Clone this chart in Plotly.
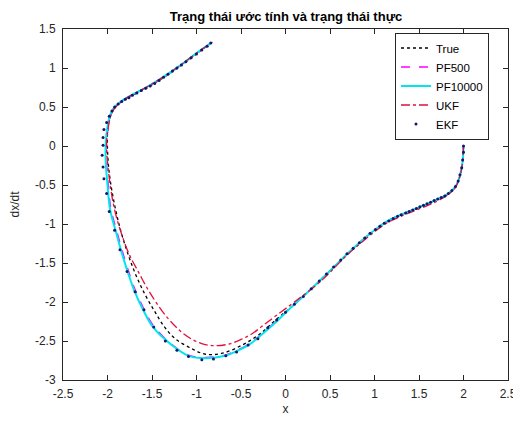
import plotly.graph_objects as go

# ---------------- data ----------------
true_x = [2.00, 1.99, 1.96, 1.91, 1.83, 1.75, 1.60, 1.45, 1.30, 1.15, 1.00, 0.85, 0.70, 0.50, 0.30, 0.10,
          -0.10, -0.30, -0.50, -0.72, -0.90, -1.05, -1.24, -1.36, -1.47, -1.58, -1.69, -1.78, -1.86, -1.93,
          -1.98, -2.00, -2.00, -1.98, -1.93, -1.85, -1.75, -1.60, -1.45, -1.30, -1.15, -1.00, -0.85]
true_y = [0.00, -0.20, -0.38, -0.52, -0.61, -0.66, -0.74, -0.81, -0.88, -0.96, -1.08, -1.22, -1.38, -1.60, -1.82, -2.03,
          -2.22, -2.42, -2.56, -2.66, -2.67, -2.60, -2.47, -2.32, -2.12, -1.90, -1.63, -1.35, -1.05, -0.70,
          -0.35, -0.05, 0.15, 0.33, 0.47, 0.56, 0.63, 0.72, 0.82, 0.93, 1.05, 1.18, 1.31]

pf10000_x = [2.00, 1.99, 1.96, 1.91, 1.83, 1.75, 1.60, 1.45, 1.30, 1.15, 1.00, 0.84, 0.69, 0.50, 0.30, 0.10,
             -0.10, -0.25, -0.40, -0.55, -0.68, -0.90, -1.09, -1.28, -1.49, -1.60, -1.70, -1.78, -1.85, -1.90,
             -1.97, -2.00, -2.02, -2.02, -2.00, -1.97, -1.92, -1.85, -1.75, -1.60, -1.45, -1.30, -1.15, -1.00, -0.84]
pf10000_y = [0.00, -0.20, -0.38, -0.52, -0.61, -0.66, -0.74, -0.81, -0.88, -0.96, -1.08, -1.23, -1.39, -1.60, -1.82, -2.03,
             -2.25, -2.40, -2.54, -2.63, -2.69, -2.72, -2.69, -2.55, -2.32, -2.10, -1.85, -1.59, -1.33, -1.12,
             -0.82, -0.50, -0.20, 0.03, 0.25, 0.40, 0.50, 0.57, 0.64, 0.73, 0.83, 0.94, 1.06, 1.19, 1.32]

pf500_x = [2.00, 1.99, 1.96, 1.91, 1.83, 1.75, 1.60, 1.45, 1.30, 1.15, 1.00, 0.84, 0.69, 0.50, 0.30, 0.10,
           -0.10, -0.25, -0.40, -0.55, -0.68, -0.90, -1.09, -1.28, -1.48, -1.59, -1.69, -1.77, -1.84, -1.89,
           -1.96, -1.99, -2.01, -2.01, -1.99, -1.96, -1.92, -1.85, -1.75, -1.60, -1.45, -1.30, -1.15, -1.00, -0.84]
pf500_y = [0.00, -0.20, -0.38, -0.52, -0.61, -0.66, -0.74, -0.81, -0.88, -0.96, -1.08, -1.23, -1.39, -1.60, -1.82, -2.03,
           -2.24, -2.39, -2.53, -2.62, -2.68, -2.71, -2.68, -2.54, -2.31, -2.09, -1.84, -1.58, -1.32, -1.11,
           -0.81, -0.50, -0.20, 0.03, 0.25, 0.40, 0.50, 0.57, 0.64, 0.73, 0.83, 0.94, 1.06, 1.19, 1.32]

ukf_x = [2.00, 1.99, 1.96, 1.91, 1.83, 1.75, 1.60, 1.45, 1.30, 1.15, 1.00, 0.84, 0.69, 0.39, 0.10, -0.10,
         -0.25, -0.38, -0.50, -0.64, -0.80, -0.95, -1.13, -1.35, -1.54, -1.65, -1.76, -1.85, -1.92,
         -1.97, -2.00, -2.01, -1.99, -1.96, -1.91, -1.84, -1.75, -1.60, -1.45, -1.30, -1.15, -1.00, -0.82]
ukf_y = [0.00, -0.20, -0.39, -0.53, -0.62, -0.68, -0.76, -0.83, -0.90, -0.98, -1.10, -1.25, -1.40, -1.74, -2.00, -2.17,
         -2.30, -2.41, -2.48, -2.54, -2.56, -2.53, -2.42, -2.17, -1.85, -1.62, -1.38, -1.10, -0.82,
         -0.50, -0.20, 0.03, 0.25, 0.40, 0.50, 0.57, 0.64, 0.73, 0.83, 0.94, 1.06, 1.19, 1.33]

ekf_x = [2.00, 2.00, 1.99, 1.98, 1.96, 1.94, 1.91, 1.87, 1.83, 1.79, 1.75, 1.71, 1.67, 1.63, 1.59, 1.55,
         1.51, 1.47, 1.43, 1.39, 1.35, 1.30, 1.26, 1.21, 1.16, 1.11, 1.06, 1.01, 0.95, 0.89, 0.83, 0.76,
         0.69, 0.62, 0.54, 0.46, 0.38, 0.29, 0.20, 0.10, 0.00, -0.10, -0.20, -0.31, -0.42, -0.55, -0.67,
         -0.81, -0.94, -1.09, -1.22, -1.35, -1.48, -1.59, -1.69, -1.78, -1.86, -1.92, -1.98, -2.01, -2.04,
         -2.05, -2.06, -2.05, -2.05, -2.04, -2.01, -1.98, -1.95, -1.92, -1.88, -1.84, -1.80, -1.76, -1.72,
         -1.67, -1.62, -1.57, -1.52, -1.47, -1.42, -1.37, -1.32, -1.27, -1.22, -1.17, -1.12, -1.06, -1.00,
         -0.94, -0.88, -0.84]
ekf_y = [0.00, -0.08, -0.18, -0.28, -0.37, -0.45, -0.52, -0.57, -0.61, -0.64, -0.66, -0.68, -0.70, -0.72, -0.74, -0.76,
         -0.78, -0.80, -0.82, -0.84, -0.86, -0.88, -0.90, -0.93, -0.96, -0.99, -1.03, -1.07, -1.12, -1.18, -1.24, -1.31,
         -1.38, -1.46, -1.55, -1.64, -1.73, -1.83, -1.93, -2.03, -2.13, -2.23, -2.33, -2.47, -2.55, -2.64, -2.69,
         -2.73, -2.74, -2.70, -2.62, -2.50, -2.32, -2.10, -1.87, -1.61, -1.33, -1.08, -0.84, -0.61, -0.42,
         -0.27, -0.12, 0.01, 0.11, 0.21, 0.30, 0.38, 0.45, 0.50, 0.54, 0.57, 0.60, 0.62, 0.65,
         0.68, 0.71, 0.74, 0.77, 0.80, 0.84, 0.88, 0.92, 0.96, 1.00, 1.04, 1.08, 1.13, 1.18,
         1.23, 1.28, 1.32]

x_ticks = [-2.5, -2, -1.5, -1, -0.5, 0, 0.5, 1, 1.5, 2, 2.5]
x_tick_labels = ["-2.5", "-2", "-1.5", "-1", "-0.5", "0", "0.5", "1", "1.5", "2", "2.5"]
y_ticks = [-3, -2.5, -2, -1.5, -1, -0.5, 0, 0.5, 1, 1.5]
y_tick_labels = ["-3", "-2.5", "-2", "-1.5", "-1", "-0.5", "0", "0.5", "1", "1.5"]

# ---------------- figure ----------------
AX = "#262626"
FONT = "Liberation Sans, Arial, sans-serif"

fig = go.Figure()
fig.add_trace(go.Scatter(x=true_x, y=true_y, mode="lines", name="True",
                         line=dict(color="#000000", width=1.3, dash="dot", shape="spline")))
fig.add_trace(go.Scatter(x=pf500_x, y=pf500_y, mode="lines", name="PF500",
                         line=dict(color="#ff00ff", width=1.3, dash="dash", shape="spline")))
fig.add_trace(go.Scatter(x=pf10000_x, y=pf10000_y, mode="lines", name="PF10000",
                         line=dict(color="#00e5ee", width=2, shape="spline")))
fig.add_trace(go.Scatter(x=ukf_x, y=ukf_y, mode="lines", name="UKF",
                         line=dict(color="#e0103c", width=1.3, dash="dashdot", shape="spline")))
fig.add_trace(go.Scatter(x=ekf_x, y=ekf_y, mode="markers", name="EKF",
                         marker=dict(color="#15156e", size=3)))

axis_common = dict(showline=True, linecolor=AX, linewidth=1, mirror="ticks",
                   ticks="inside", ticklen=5, tickcolor=AX, showgrid=False, zeroline=False,
                   automargin=False, tickfont=dict(family=FONT, size=12, color=AX))

# page body has an 8px margin, so the figure is drawn 8px smaller and the margins compensate
fig.update_layout(
    width=513, height=413,
    margin=dict(l=55, r=13, t=21, b=41),
    paper_bgcolor="white", plot_bgcolor="white",
    title=dict(text="<b>Trạng thái ước tính và trạng thái thực</b>", x=0.542, xanchor="center",
               y=0.979, yanchor="middle", font=dict(family=FONT, size=13, color="#000000")),
    xaxis=dict(range=[-2.5, 2.5], tickvals=x_ticks, ticktext=x_tick_labels, ticklabelstandoff=3,
               title=dict(text="x", font=dict(family=FONT, size=12, color=AX), standoff=4), **axis_common),
    yaxis=dict(range=[-3, 1.5], tickvals=y_ticks, ticktext=y_tick_labels, ticklabelstandoff=4,
               title=dict(text="dx/dt", font=dict(family=FONT, size=12, color=AX), standoff=17), **axis_common),
    legend=dict(x=0.746, y=0.99, xanchor="left", yanchor="top", bordercolor=AX, borderwidth=1,
                bgcolor="white", font=dict(family=FONT, size=11.5, color="#000000"),
                itemwidth=30, tracegroupgap=0),
    showlegend=True,
)

fig.write_html("out.html")
